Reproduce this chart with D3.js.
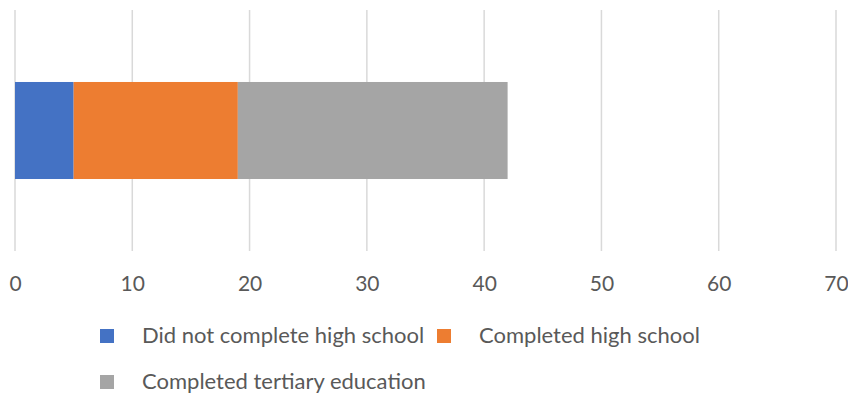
<!DOCTYPE html>
<html>
<head>
<meta charset="utf-8">
<script src="https://cdnjs.cloudflare.com/ajax/libs/d3/7.8.5/d3.min.js"></script>
<style>
  html, body { margin: 0; padding: 0; background: #fff; }
  svg { display: block; font-family: Lato, "Open Sans", sans-serif; }
</style>
</head>
<body>
<div id="chart"></div>
<script>
// data
var categories = ['Group'];
var seriesNames = ['Did not complete high school', 'Completed high school', 'Completed tertiary education'];
var seriesColors = ['#4472c4', '#ed7d31', '#a5a5a5'];
var seriesValues = [[5], [14], [23]];
var xTicks = [0, 10, 20, 30, 40, 50, 60, 70];

var width = 848, height = 396;
var margin = {top: 10, left: 15, right: 12};
var plotH = 241;

var svg = d3.select('#chart').append('svg')
  .attr('width', width)
  .attr('height', height);

var x = d3.scaleLinear()
  .domain([0, 70])
  .range([margin.left, width - margin.right]);

var y = d3.scaleBand()
  .domain(categories)
  .range([margin.top, margin.top + plotH])
  .paddingInner(0)
  .paddingOuter(0.742);

// gridlines
svg.append('g')
  .selectAll('line')
  .data(xTicks)
  .enter().append('line')
  .attr('x1', function (d) { return x(d); })
  .attr('x2', function (d) { return x(d); })
  .attr('y1', margin.top)
  .attr('y2', margin.top + plotH)
  .attr('stroke', '#d9d9d9')
  .attr('stroke-width', 1.5);

// stack the rows
var rows = categories.map(function (c, i) {
  var r = {cat: c};
  seriesNames.forEach(function (s, j) { r[s] = seriesValues[j][i]; });
  return r;
});
var stacked = d3.stack().keys(seriesNames)(rows);

svg.append('g')
  .selectAll('g')
  .data(stacked)
  .enter().append('g')
  .attr('fill', function (d, i) { return seriesColors[i]; })
  .selectAll('rect')
  .data(function (d) { return d; })
  .enter().append('rect')
  .attr('x', function (d) { return x(d[0]); })
  .attr('width', function (d) { return x(d[1]) - x(d[0]); })
  .attr('y', function (d) { return y(d.data.cat); })
  .attr('height', y.bandwidth());

// x axis labels, no domain line
var axis = svg.append('g')
  .attr('transform', 'translate(0,' + (margin.top + plotH) + ')')
  .call(d3.axisBottom(x).tickValues(xTicks).tickSize(0).tickPadding(0));
axis.select('.domain').remove();
axis.selectAll('.tick text')
  .attr('dy', 0)
  .attr('y', 40)
  .attr('fill', '#595959')
  .attr('font-size', 21)
  .attr('font-family', 'Lato, "Open Sans", sans-serif');

// legend
var legendPos = [[100, 329], [437, 329], [100, 375]];
var legend = svg.append('g')
  .selectAll('g')
  .data(seriesNames)
  .enter().append('g')
  .attr('transform', function (d, i) {
    return 'translate(' + legendPos[i][0] + ',' + legendPos[i][1] + ')';
  });

legend.append('rect')
  .attr('width', 14)
  .attr('height', 14)
  .attr('fill', function (d, i) { return seriesColors[i]; });

legend.append('text')
  .attr('x', 42)
  .attr('y', 14)
  .attr('fill', '#595959')
  .attr('font-size', 22)
  .text(function (d) { return d; });
</script>
</body>
</html>
